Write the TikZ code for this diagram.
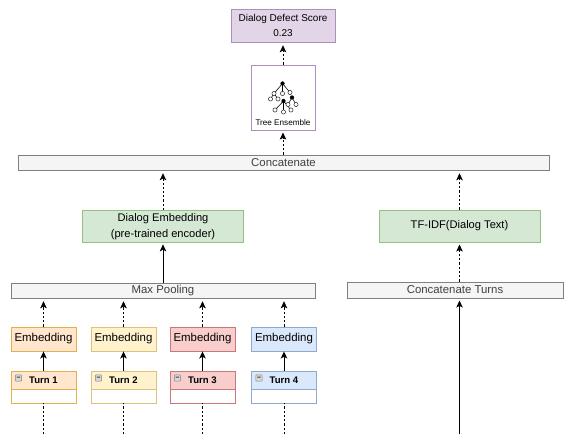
\documentclass[tikz,border=0pt]{standalone}
\usepackage{fontspec}
\usetikzlibrary{arrows.meta}
\setmainfont{Liberation Sans}
\definecolor{orangefill}{HTML}{FFE6CC}
\definecolor{orangeline}{HTML}{E0B050}
\definecolor{yellowfill}{HTML}{FFF2CC}
\definecolor{yellowline}{HTML}{DCC27A}
\definecolor{redfill}{HTML}{F8CECC}
\definecolor{redline}{HTML}{C9787A}
\definecolor{bluefill}{HTML}{DAE8FC}
\definecolor{blueline}{HTML}{8FA9CF}
\definecolor{greenfill}{HTML}{D5E8D4}
\definecolor{greenline}{HTML}{96C080}
\definecolor{purplefill}{HTML}{E1D5E7}
\definecolor{purpleline}{HTML}{AC8FBC}
\definecolor{greyfill}{HTML}{F5F5F5}
\definecolor{greyline}{HTML}{808080}
\tikzset{
    plainbox/.style={draw,line width=0.6pt,inner sep=0pt,align=center},
    barbox/.style={plainbox,fill=greyfill,draw=greyline,text=black!75,font=\fontsize{8.1}{10}\selectfont},
    greenbox/.style={plainbox,fill=greenfill,draw=greenline,minimum width=4.025cm,minimum height=0.8cm,font=\fontsize{7.9}{11}\selectfont},
    emb/.style 2 args={plainbox,fill=#1,draw=#2,minimum width=1.625cm,minimum height=0.6cm,font=\fontsize{8.15}{10}\selectfont},
    turnhead/.style 2 args={plainbox,fill=#1,draw=#2,minimum width=1.625cm,minimum height=0.45cm,font=\fontsize{6.8}{8}\selectfont\bfseries},
    turnbody/.style={plainbox,fill=white,draw=#1,minimum width=1.625cm,minimum height=0.35cm},
    minusbox/.style={draw=black!50,fill=black!15,line width=0.3pt,rounded corners=0.6pt,minimum size=0.16cm,inner sep=0pt,font=\fontsize{5}{5}\selectfont\bfseries},
    dashline/.style={dash pattern=on 1.6pt off 1.4pt,line width=0.5pt},
    solidline/.style={line width=0.7pt},
    leaf/.style={fill=white,draw=black,line width=0.3pt},
}
\begin{document}
\begin{tikzpicture}[x=0.025cm,y=-0.025cm,>={Stealth[length=5pt,width=4.6pt,inset=1.2pt]}]
    \useasboundingbox (0,0) rectangle (564,434);
    % top of the stack
    \node[plainbox,fill=purplefill,draw=purpleline,minimum width=2.6cm,minimum height=0.825cm,font=\fontsize{7.1}{11}\selectfont] (score) at (283,25.5) {Dialog Defect Score\\0.23};
    \node[plainbox,fill=white,draw=purpleline,minimum width=1.6cm,minimum height=1.625cm] (treebox) at (283,97.5) {};
    \node[font=\fontsize{5.8}{7}\selectfont] (treetext) at (283,123) {Tree Ensemble};
    \draw[line width=0.4pt] (282.5,83.5) -- (274,93.5) (282.5,83.5) -- (282.5,93.5) (282.5,83.5) -- (290,92.5) (274,93.5) -- (270.5,99) (274,93.5) -- (278,99);
    \draw[line width=0.4pt] (283.5,101) -- (275,110) (283.5,101) -- (283.5,112) (283.5,101) -- (291,110);
    \draw[line width=0.4pt] (292,97.5) -- (288,104.5) (292,97.5) -- (296,104.5);
    \fill (282.5,83.5) circle (1.5pt) (283.5,101) circle (1.5pt) (292,97.5) circle (1.5pt);
    \path[leaf] (274,93.5) circle (1.5pt) (282.5,93.5) circle (1.5pt) (290,92.5) circle (1.5pt) (270.5,99) circle (1.5pt) (278,99) circle (1.5pt);
    \path[leaf] (275,110) circle (1.5pt) (283.5,112) circle (1.5pt) (291,110) circle (1.5pt) (288,104.5) circle (1.5pt) (296,104.5) circle (1.5pt);
    \node[barbox,minimum width=13.275cm,minimum height=0.375cm] (concat) at (283.5,162.5) {Concatenate};
    \node[greenbox] (dialog) at (163,226.5) {Dialog Embedding\\(pre-trained encoder)};
    \node[greenbox] (tfidf) at (459.5,226) {TF-IDF(Dialog Text)};
    \node[barbox,minimum width=7.6cm,minimum height=0.375cm] (maxpool) at (163,290.5) {Max Pooling};
    \node[barbox,minimum width=5.4cm,minimum height=0.4cm] (turnsall) at (455,290) {Concatenate Turns};
    % the four turns
    \node[emb={orangefill}{orangeline}] (embA) at (43.5,339) {Embedding};
    \node[emb={yellowfill}{yellowline}] (embB) at (123.5,339) {Embedding};
    \node[emb={redfill}{redline}] (embC) at (202.5,339) {Embedding};
    \node[emb={bluefill}{blueline}] (embD) at (284,339) {Embedding};
    \node[turnbody=orangeline] (bodyA) at (43.5,396) {};
    \node[turnbody=yellowline] (bodyB) at (123.5,396) {};
    \node[turnbody=redline] (bodyC) at (202.5,396) {};
    \node[turnbody=blueline] (bodyD) at (284,396) {};
    \node[turnhead={orangefill}{orangeline}] (turnA) at (43.5,380) {Turn 1};
    \node[turnhead={yellowfill}{yellowline}] (turnB) at (123.5,380) {Turn 2};
    \node[turnhead={redfill}{redline}] (turnC) at (202.5,380) {Turn 3};
    \node[turnhead={bluefill}{blueline}] (turnD) at (284,380) {Turn 4};
    \node[minusbox] (minusA) at (18.5,378) {--};
    \node[minusbox] (minusB) at (98.5,378) {--};
    \node[minusbox] (minusC) at (177.5,378) {--};
    \node[minusbox] (minusD) at (259,378) {--};
    % free ends at the bottom
    \coordinate (inA) at (43.5,434);
    \coordinate (inB) at (123.5,434);
    \coordinate (inC) at (202.5,434);
    \coordinate (inD) at (284,434);
    \coordinate (inText) at (459.5,434);
    % arrows
    \draw[dashline] (inA) -- (bodyA.south);
    \draw[dashline] (inB) -- (bodyB.south);
    \draw[dashline] (inC) -- (bodyC.south);
    \draw[dashline] (inD) -- (bodyD.south);
    \draw[solidline,->] (turnA.north) -- (embA.south);
    \draw[solidline,->] (turnB.north) -- (embB.south);
    \draw[solidline,->] (turnC.north) -- (embC.south);
    \draw[solidline,->] (turnD.north) -- (embD.south);
    \draw[dashline,->,shorten >=2pt] (embA.north) -- (embA.north |- maxpool.south);
    \draw[dashline,->,shorten >=2pt] (embB.north) -- (embB.north |- maxpool.south);
    \draw[dashline,->,shorten >=2pt] (embC.north) -- (embC.north |- maxpool.south);
    \draw[dashline,->,shorten >=2pt] (embD.north) -- (embD.north |- maxpool.south);
    \draw[solidline,->,shorten >=1pt] (maxpool.north) -- (dialog.south);
    \draw[solidline,->,shorten >=1.5pt] (inText) -- (inText |- turnsall.south);
    \draw[dashline,->,shorten >=1.5pt] (inText |- turnsall.north) -- (tfidf.south);
    \draw[dashline,->,shorten >=2pt] (dialog.north) -- (dialog.north |- concat.south);
    \draw[dashline,->,shorten >=2pt] (tfidf.north) -- (tfidf.north |- concat.south);
    \draw[dashline,->,shorten >=1.5pt] (concat.north -| treebox.south) -- (treebox.south);
    \draw[dashline,->,shorten >=2pt] (treebox.north) -- (score.south);
\end{tikzpicture}
\end{document}
